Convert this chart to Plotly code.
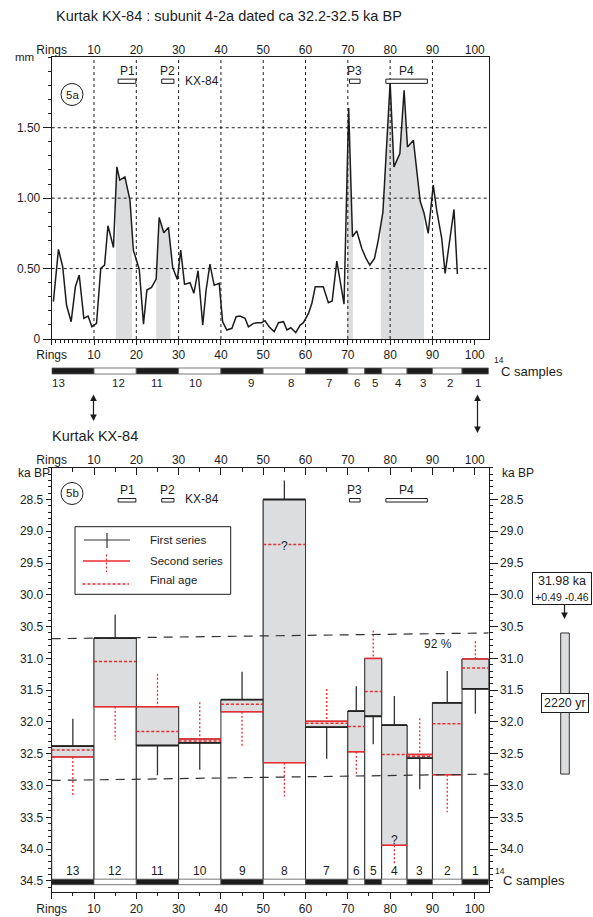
import numpy as np
import plotly.graph_objects as go

W, H = 593, 917
FONT = "Liberation Sans, Arial, sans-serif"
INK = "#1c1c1c"
RED = "#ee2b2f"
FILL = "#dcdddf"

# ---------------------------------------------------------------- data
# ring-width series of KX-84 (position in rings, width in mm)
ring_pos = [0.4, 1.6, 2.6, 3.5, 4.6, 5.6, 6.5, 7.6, 8.6, 9.5,
            10.6, 11.6, 12.5, 13.3, 14.6, 15.4, 16.1, 17.3, 18.5, 19.3,
            20.7, 21.7, 22.5, 23.6, 24.7, 25.4, 26.5, 27.6, 28.6, 29.7,
            30.5, 31.4, 32.7, 33.6, 34.6, 35.7, 36.5, 37.4, 38.4, 39.6,
            40.4, 41.4, 42.6, 43.6, 44.5, 45.7, 46.5, 47.7, 48.6, 49.6,
            50.4, 51.4, 52.6, 53.6, 54.8, 55.6, 56.5, 57.7, 58.7, 59.5,
            60.7, 61.5, 62.3, 64.2, 65.4, 66.3, 67.4, 68.3, 69.1, 70.2,
            71.1, 72.1, 73.3, 74.3, 75.2, 76.3, 77.2, 78.3, 80.0, 80.9,
            82.3, 83.3, 84.1, 85.5, 87.1, 88.0, 89.0, 90.2, 91.0, 92.2,
            93.0, 95.1, 95.9]
width_mm = [0.265, 0.636, 0.513, 0.241, 0.123, 0.371, 0.454, 0.147, 0.163, 0.087,
            0.111, 0.501, 0.525, 0.804, 0.650, 1.222, 1.128, 1.151, 0.986, 0.631,
            0.494, 0.106, 0.348, 0.366, 0.425, 0.863, 0.754, 0.792, 0.508, 0.423,
            0.631, 0.388, 0.400, 0.324, 0.485, 0.099, 0.348, 0.532, 0.381, 0.395,
            0.123, 0.064, 0.076, 0.158, 0.163, 0.147, 0.087, 0.111, 0.116, 0.116,
            0.130, 0.087, 0.052, 0.116, 0.123, 0.064, 0.080, 0.045, 0.097, 0.116,
            0.182, 0.253, 0.371, 0.371, 0.258, 0.270, 0.553, 0.395, 0.248, 1.640,
            0.726, 0.768, 0.643, 0.572, 0.525, 0.572, 0.702, 0.903, 1.820, 1.222,
            1.317, 1.766, 1.364, 1.411, 0.980, 0.895, 0.750, 1.092, 0.915, 0.714,
            0.466, 0.920, 0.461]

# periods P1-P4 (rings) and the shaded stretches of the curve
period_names = ["P1", "P2", "P3", "P4"]
period_from = [15.7, 26.0, 70.4, 79.0]
period_to = [19.9, 28.9, 72.9, 88.8]
shade_from = [15.2, 24.7, 69.8, 77.8]
shade_to = [19.0, 28.1, 71.2, 88.0]

# 14C samples (ka BP)
sample_id = [13, 12, 11, 10, 9, 8, 7, 6, 5, 4, 3, 2, 1]
sample_from = [0, 10, 20, 30, 40, 50, 60, 70, 74, 78, 84, 90, 97]
sample_to = [10, 20, 30, 40, 50, 60, 70, 74, 78, 84, 90, 97, 103.3]
first_age = [32.38, 30.68, 32.37, 32.33, 31.65, 28.50, 32.08, 31.83, 31.91, 32.05, 32.57, 31.70, 31.48]
first_err = [0.43, 0.37, 0.47, 0.42, 0.44, 0.30, 0.50, 0.39, 0.44, 0.46, 0.49, 0.50, 0.39]
second_age = [32.55, 31.76, 31.76, 32.27, 31.84, 32.64, 31.99, 32.47, 31.00, 33.94, 32.51, 32.83, 31.01]
second_err = [0.60, 0.52, 0.52, 0.58, 0.55, 0.53, 0.51, 0.37, 0.44, 0.31, 0.57, 0.59, 0.28]
final_age = [32.44, 31.05, 32.15, 32.30, 31.72, 29.21, 32.02, 32.07, 31.52, 32.51, 32.54, 32.03, 31.15]
uncertain_final = [8]          # final age marked "?"
uncertain_second = [4]         # second-series age marked "?"
# sample-number positions under the ring scale between the panels
between_label_pos = [1.7, 15.7, 25.0, 33.9, 47.0, 56.5, 65.6, 72.2, 76.5, 82.0, 87.7, 94.1, 100.8]

# 92 % envelope (ring, ka BP) and combined age
envelope_rings = [0, 103.3]
envelope_upper = [30.69, 30.60]
envelope_lower = [32.92, 32.82]
combined_age = 31.98
combined_plus, combined_minus = 0.49, 0.46
span_top = 30.60
span_years = 2220

ring_ticks = list(range(0, 101, 10))
ring_ticktext = ["Rings"] + [str(v) for v in ring_ticks[1:]]
mm_ticks = [0, 0.5, 1.0, 1.5]
mm_ticktext = ["0", "0.50", "1.00", "1.50"]
ka_ticks = [28.5 + 0.5 * i for i in range(13)]
ka_ticks_right = ka_ticks[:-1]

# ---------------------------------------------------------------- geometry
X_RANGE = [0, 103.3]
X0_PX, X1_PX = 51.7, 488.7
TOP_Y0, TOP_Y1 = 339.0, 57.3      # panel 5a bottom/top (px from top)
BOT_Y0, BOT_Y1 = 892.0, 467.7     # panel 5b bottom/top
KA_RANGE = [34.675, 28.0]


def px(x):
    return x / W


def py(y):
    return 1 - y / H


fig = go.Figure()
shapes = []
ann = []


def seg(x0, y0, x1, y1, xref, yref, color=INK, width=1, dash=None, layer="above"):
    d = dict(type="line", x0=x0, y0=y0, x1=x1, y1=y1, xref=xref, yref=yref,
             line=dict(color=color, width=width), layer=layer)
    if dash:
        d["line"]["dash"] = dash
    shapes.append(d)


def rect(x0, y0, x1, y1, xref, yref, fill, color=INK, width=1, layer="above"):
    shapes.append(dict(type="rect", x0=x0, y0=y0, x1=x1, y1=y1, xref=xref, yref=yref,
                       fillcolor=fill, line=dict(color=color, width=width), layer=layer))


def text(x, y, s, size=12, xref="paper", yref="paper", xanchor="center", **kw):
    ann.append(dict(x=x, y=y, text=s, xref=xref, yref=yref, xanchor=xanchor,
                    yanchor=kw.pop("yanchor", "middle"), showarrow=False,
                    font=dict(family=FONT, size=size, color=kw.pop("color", INK)), **kw))


def arrow(xh, yh, tail_dy, both=False):
    """Vertical arrow with head at (xh, yh) px; tail offset tail_dy px (negative = above)."""
    d = dict(x=px(xh), y=py(yh), ax=0, ay=tail_dy, xref="paper", yref="paper",
             axref="pixel", ayref="pixel", text="", showarrow=True, arrowhead=2,
             arrowsize=1.1, arrowwidth=1.2, arrowcolor=INK)
    if both:
        d.update(startarrowhead=2, startarrowsize=1.1, arrowside="end+start")
    ann.append(d)


# ---------------------------------------------------------------- panel 5a
rp = np.array(ring_pos)
wm = np.array(width_mm)
for a, b in zip(shade_from, shade_to):
    inside = (rp > a) & (rp < b)
    xs = np.concatenate([[a], rp[inside], [b]])
    ys = np.concatenate([[np.interp(a, rp, wm)], wm[inside], [np.interp(b, rp, wm)]])
    fig.add_trace(go.Scatter(x=xs, y=ys, mode="lines", fill="tozeroy", fillcolor=FILL,
                             line=dict(width=0, color=FILL), hoverinfo="skip",
                             showlegend=False, xaxis="x", yaxis="y"))
fig.add_trace(go.Scatter(x=ring_pos, y=width_mm, mode="lines",
                         line=dict(color=INK, width=1.5), showlegend=False,
                         xaxis="x", yaxis="y"))

for g in range(10, 100, 10):
    seg(g, 0, g, 2.0, "x", "y", width=1, dash="3px,3px")
for g in (0.5, 1.0, 1.5):
    seg(0, g, X_RANGE[1], g, "x", "y", width=1, dash="3px,3px")

for name, a, b in zip(period_names, period_from, period_to):
    rect(a, 1.815, b, 1.845, "x", "y", "white", width=1)
    text((a + b) / 2, 1.905, name, 12, "x", "y")
    rect(a, 28.485, b, 28.54, "x2", "y2", "white", width=1)
    text((a + b) / 2, 28.35, name, 12, "x2", "y2")
text(31.0, 1.83, "KX-84", 12, "x", "y", xanchor="left")
text(31.0, 28.5, "KX-84", 12, "x2", "y2", xanchor="left")

# panel tags
shapes.append(dict(type="circle", xref="paper", yref="paper", x0=px(61), x1=px(83),
                   y0=py(83.5), y1=py(105.5), line=dict(color=INK, width=1)))
text(px(72), py(94.5), "5a", 11.5)
shapes.append(dict(type="circle", xref="paper", yref="paper", x0=px(61), x1=px(83),
                   y0=py(482.5), y1=py(504.5), line=dict(color=INK, width=1)))
text(px(72), py(493.5), "5b", 11.5)

text(px(54), py(16), "Kurtak KX-84 : subunit 4-2a dated ca 32.2-32.5 ka BP", 14.5, xanchor="left")
text(px(36), py(57), "mm", 11.5, xanchor="right")

# sample strip between the panels
for sid, a, b in zip(sample_id, sample_from, sample_to):
    rect(a, py(374), b, py(368), "x", "paper", INK if sid % 2 else "white", color="#555", width=0.8)
for sid, pos in zip(sample_id, between_label_pos):
    text(pos, py(383.5), str(sid), 11.5, "x", "paper")
text(px(491.5), py(360), "14", 8.5, xanchor="left")
text(px(499), py(371), "C samples", 13, xanchor="left")

# double arrows linking the panels
arrow(93.5, 421, -28, both=True)
arrow(477.5, 433, -40, both=True)

text(px(50), py(436), "Kurtak KX-84", 14.5, xanchor="left")

# ---------------------------------------------------------------- panel 5b
for i, sid in enumerate(sample_id):
    a, b = sample_from[i], sample_to[i]
    top = min(first_age[i], second_age[i])
    low = max(first_age[i], second_age[i])
    rect(a, top, b, 34.5, "x2", "y2", "white", color="#2a2a2a", width=1)
    rect(a, top, b, low, "x2", "y2", FILL, color="#3a3a3a", width=1)
for i, sid in enumerate(sample_id):
    a, b = sample_from[i], sample_to[i]
    c = (a + b) / 2
    f, s = first_age[i], second_age[i]
    if f <= s:
        seg(c, f - first_err[i], c, f, "x2", "y2", color="#333", width=1.3)
        seg(c, s, c, s + second_err[i], "x2", "y2", color=RED, width=1.3, dash="2px,2px")
    else:
        seg(c, s - second_err[i], c, s, "x2", "y2", color=RED, width=1.3, dash="2px,2px")
        seg(c, f, c, f + first_err[i], "x2", "y2", color="#333", width=1.3)
    seg(a, f, b, f, "x2", "y2", color="#222", width=1.8)
    seg(a, s, b, s, "x2", "y2", color=RED, width=1.5)
    seg(a, final_age[i], b, final_age[i], "x2", "y2", color=RED, width=1.5, dash="3px,2px")
    text(c, 34.35, str(sid), 12, "x2", "y2")
    if sid in uncertain_final:
        text(c, final_age[i] + 0.02, "?", 12, "x2", "y2", bgcolor=FILL, borderpad=0)
    if sid in uncertain_second:
        text(c, second_age[i] - 0.08, "?", 12, "x2", "y2")

# sample strip at the base of 5b
for sid, a, b in zip(sample_id, sample_from, sample_to):
    rect(a, 34.473, b, 34.56, "x2", "y2", INK if sid % 2 else "white", color="#555", width=0.8)
text(px(493.5), py(870.5), "14", 8.5, xanchor="left")
text(px(501), py(880), "C samples", 13, xanchor="left")

# 92 % envelope
seg(envelope_rings[0], envelope_upper[0], envelope_rings[1], envelope_upper[1], "x2", "y2",
    color="#333", width=1.2, dash="9px,7px")
seg(envelope_rings[0], envelope_lower[0], envelope_rings[1], envelope_lower[1], "x2", "y2",
    color="#333", width=1.2, dash="9px,7px")
text(91.4, 30.77, "92 %", 12, "x2", "y2")

# combined age span beside the right axis
rect(px(560.7), span_top, px(569.3), span_top + span_years / 1000, "paper", "y2", FILL,
     color="#333", width=1)
ann.append(dict(x=px(562), y=py(588), xref="paper", yref="paper", showarrow=False,
                xanchor="center", yanchor="middle",
                text=f"{combined_age:.2f} ka<br><span style='font-size:10.5px'>"
                     f"+{combined_plus:.2f} -{combined_minus:.2f}</span>",
                font=dict(family=FONT, size=12.5, color=INK), bgcolor="white",
                bordercolor=INK, borderwidth=1, borderpad=1, width=56, align="center"))
arrow(564.5, 619, -16)
ann.append(dict(x=px(565), y=py(703), xref="paper", yref="paper", showarrow=False,
                xanchor="center", yanchor="middle",
                text=f"{span_years} yr", font=dict(family=FONT, size=12.5, color=INK),
                bgcolor="white", bordercolor=INK, borderwidth=1, borderpad=2))

text(px(34), py(472.5), "ka BP", 12)
text(px(518), py(472.5), "ka BP", 12)

# legend
rect(px(75), py(594.3), px(230.7), py(526.7), "paper", "paper", "white", width=1)
seg(px(84), py(540), px(130), py(540), "paper", "paper", color="#333", width=1.2)
seg(px(107), py(533), px(107), py(548), "paper", "paper", color="#333", width=1.2)
text(px(147.5), py(540), "First series", 11.5, xanchor="left")
seg(px(83), py(561), px(130), py(561), "paper", "paper", color=RED, width=1.3)
seg(px(106.5), py(554.5), px(106.5), py(572), "paper", "paper", color=RED, width=1.2, dash="2px,2px")
text(px(147.5), py(561), "Second series", 11.5, xanchor="left")
seg(px(82.5), py(584), px(129), py(584), "paper", "paper", color=RED, width=1.3, dash="3px,2px")
text(px(147.5), py(580), "Final age", 11.5, xanchor="left")

# invisible anchors for the overlaid axes
for xa, ya in (("x3", "y"), ("x4", "y2"), ("x2", "y3"), ("x2", "y2")):
    fig.add_trace(go.Scatter(x=[None], y=[None], xaxis=xa, yaxis=ya, showlegend=False,
                             hoverinfo="skip"))

tickfont = dict(family=FONT, size=12, color=INK)
dom_x = [px(X0_PX), px(X1_PX)]
common = dict(showgrid=False, zeroline=False, linecolor=INK, linewidth=1, tickcolor=INK,
              tickfont=tickfont, tickwidth=1, automargin=False)

fig.update_layout(
    width=W, height=H, margin=dict(l=0, r=0, t=0, b=0, pad=0, autoexpand=False),
    paper_bgcolor="white", plot_bgcolor="white", showlegend=False,
    xaxis=dict(domain=dom_x, range=X_RANGE, anchor="y", tickmode="array",
               tickvals=ring_ticks, ticktext=ring_ticktext, ticks="outside", ticklen=5,
               minor=dict(tickvals=list(range(0, 101)), ticklen=3, ticks="outside",
                          tickcolor=INK),
               showline=True, mirror=True, **common),
    yaxis=dict(domain=[py(TOP_Y0), py(TOP_Y1)], range=[0, 2.0], anchor="x", tickmode="array",
               tickvals=mm_ticks, ticktext=mm_ticktext, ticks="outside", ticklen=8,
               minor=dict(dtick=0.1, tick0=0, ticklen=3, ticks="outside", tickcolor=INK),
               showline=True, mirror=True, **common),
    xaxis3=dict(overlaying="x", side="top", anchor="y", range=X_RANGE, tickmode="array",
                tickvals=ring_ticks, ticktext=ring_ticktext, ticks="", showline=False,
                **common),
    xaxis2=dict(domain=dom_x, range=X_RANGE, anchor="y2", tickmode="array",
                tickvals=ring_ticks, ticktext=ring_ticktext, ticks="outside", ticklen=6,
                minor=dict(tickvals=list(range(5, 100, 10)), ticklen=3, ticks="outside",
                           tickcolor=INK),
                showline=True, mirror=True, **common),
    xaxis4=dict(overlaying="x2", side="top", anchor="y2", range=X_RANGE, tickmode="array",
                tickvals=ring_ticks, ticktext=ring_ticktext, ticks="inside", ticklen=7,
                minor=dict(tickvals=list(range(5, 105, 10)), ticklen=4, ticks="inside",
                           tickcolor=INK),
                showline=False, **common),
    yaxis2=dict(domain=[py(BOT_Y0), py(BOT_Y1)], range=KA_RANGE, anchor="x2", tickmode="array",
                tickvals=ka_ticks, ticktext=[f"{v:.1f}" for v in ka_ticks], ticks="outside",
                ticklen=5, minor=dict(dtick=0.1, tick0=28.0, ticklen=2.5, ticks="outside",
                                      tickcolor=INK),
                showline=True, mirror=True, **common),
    yaxis3=dict(overlaying="y2", side="right", anchor="x2", range=KA_RANGE, tickmode="array",
                tickvals=ka_ticks_right, ticktext=[f"{v:.1f}" for v in ka_ticks_right],
                ticks="outside", ticklen=8,
                minor=dict(dtick=0.1, tick0=28.0, ticklen=3, ticks="outside", tickcolor=INK),
                showline=False, **common),
    shapes=shapes, annotations=ann,
)

fig.write_html("out.html", config={"displayModeBar": False})
